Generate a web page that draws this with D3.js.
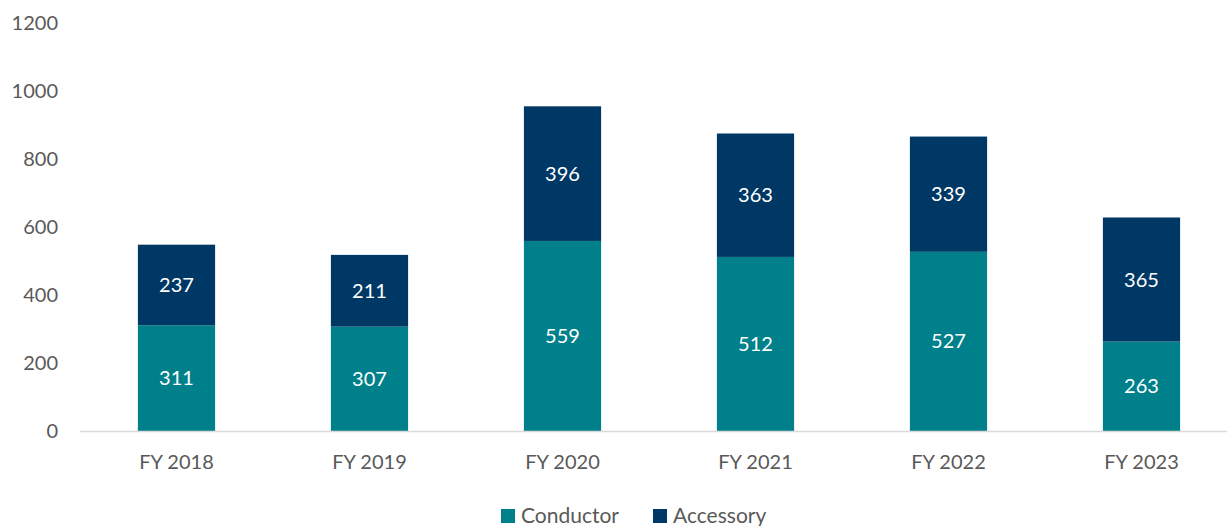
<!DOCTYPE html>
<html>
<head>
<meta charset="utf-8">
<script src="https://cdn.jsdelivr.net/npm/d3@7"></script>
<style>
  body { margin: 0; background: #fff; }
  text { font-family: Lato, "Open Sans", sans-serif; }
</style>
</head>
<body>
<div id="chart"></div>
<script>
const years = ['FY 2018', 'FY 2019', 'FY 2020', 'FY 2021', 'FY 2022', 'FY 2023'];
const conductor = [311, 307, 559, 512, 527, 263];
const accessory = [237, 211, 396, 363, 339, 365];
const seriesNames = ['Conductor', 'Accessory'];
const yTicks = [0, 200, 400, 600, 800, 1000, 1200];

const svgWidth = 1227;
const svgHeight = 526;
const colors = { Conductor: '#00808a', Accessory: '#003865' };

const svg = d3.select('#chart')
    .append('svg')
    .attr('width', svgWidth)
    .attr('height', svgHeight);

const xScale = d3.scaleBand()
    .domain(years)
    .range([80, 1238])
    .paddingInner(0.6)
    .paddingOuter(0.3);

const yScale = d3.scaleLinear()
    .domain([0, 1200])
    .range([431, 23]);

// y tick labels, no axis line
svg.append('g')
    .selectAll('text')
    .data(yTicks)
    .enter().append('text')
    .attr('x', 58)
    .attr('y', d => yScale(d))
    .attr('dy', '0.35em')
    .attr('text-anchor', 'end')
    .style('font-size', '20px')
    .style('fill', '#595959')
    .text(d => d);

const rows = years.map((y, i) => ({ year: y, Conductor: conductor[i], Accessory: accessory[i] }));
const stacked = d3.stack().keys(seriesNames)(rows);

const groups = svg.selectAll('.series')
    .data(stacked)
    .enter().append('g')
    .attr('class', 'series')
    .attr('fill', d => colors[d.key]);

groups.selectAll('rect')
    .data(d => d)
    .enter().append('rect')
    .attr('x', d => xScale(d.data.year))
    .attr('y', d => yScale(d[1]))
    .attr('width', xScale.bandwidth())
    .attr('height', d => yScale(d[0]) - yScale(d[1]));

groups.selectAll('.label')
    .data(d => d.map(p => ({ p, key: d.key })))
    .enter().append('text')
    .attr('class', 'label')
    .attr('x', d => xScale(d.p.data.year) + xScale.bandwidth() / 2)
    .attr('y', d => yScale((d.p[0] + d.p[1]) / 2))
    .attr('dy', '0.35em')
    .attr('text-anchor', 'middle')
    .style('font-size', '20px')
    .style('fill', '#fff')
    .text(d => d.p.data[d.key]);

// x axis line
svg.append('line')
    .attr('x1', 80)
    .attr('x2', 1238)
    .attr('y1', yScale(0) + 0.5)
    .attr('y2', yScale(0) + 0.5)
    .attr('stroke', '#d9d9d9')
    .attr('stroke-width', 1.5);

svg.append('g')
    .selectAll('text')
    .data(years)
    .enter().append('text')
    .attr('x', d => xScale(d) + xScale.bandwidth() / 2)
    .attr('y', 462)
    .attr('dy', '0.35em')
    .attr('text-anchor', 'middle')
    .style('font-size', '20px')
    .style('fill', '#595959')
    .text(d => d);

// legend
const legendX = [501, 653];
const legend = svg.selectAll('.legend')
    .data(seriesNames)
    .enter().append('g')
    .attr('class', 'legend')
    .attr('transform', (d, i) => 'translate(' + legendX[i] + ',509)');

legend.append('rect')
    .attr('width', 14)
    .attr('height', 14)
    .attr('fill', d => colors[d]);

legend.append('text')
    .attr('x', 20)
    .attr('y', 7)
    .attr('dy', '0.35em')
    .style('font-size', '21px')
    .style('fill', '#595959')
    .text(d => d);
</script>
</body>
</html>
